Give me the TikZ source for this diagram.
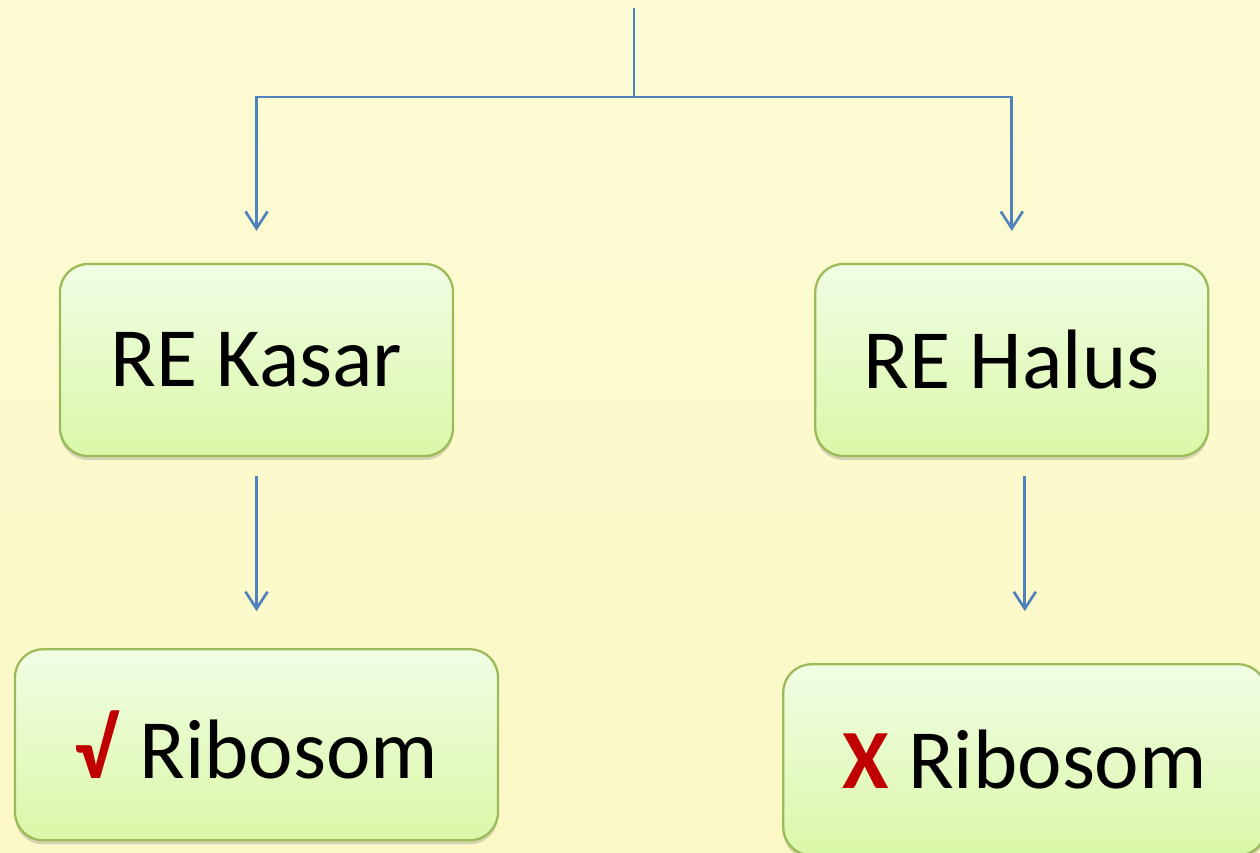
\documentclass[tikz,border=0pt]{standalone}
\usepackage{fontspec}
\setmainfont{Carlito}
\usetikzlibrary{positioning,arrows.meta,shadows}
\definecolor{bgtop}{RGB}{252,251,212}
\definecolor{bgbottom}{RGB}{252,248,198}
\definecolor{boxtop}{RGB}{241,253,228}
\definecolor{boxbottom}{RGB}{218,248,168}
\definecolor{boxline}{RGB}{155,187,89}
\definecolor{linkblue}{RGB}{79,129,189}
\definecolor{markred}{RGB}{192,0,0}
\tikzset{
  rebox/.style={draw=boxline, line width=1.3pt, rounded corners=0.56cm,
    top color=boxtop, bottom color=boxbottom,
    drop shadow={opacity=0.3, shadow xshift=0pt, shadow yshift=-0.08cm},
    minimum width=7.86cm, minimum height=3.84cm, inner sep=0pt,
    font=\fontsize{48}{52}\selectfont},
  ribobox/.style={rebox, minimum width=9.66cm, minimum height=3.82cm},
  link/.style={draw=linkblue, line width=1.5pt},
  linkarrow/.style={link, -{Straight Barb[length=0.34cm, width=0.44cm]}}
}

\begin{document}
\begin{tikzpicture}[thick]
 \shade[top color=bgtop, bottom color=bgbottom] (0,0) rectangle (25.2,-17.06);
 \useasboundingbox (0,0) rectangle (25.2,-17.06);
 \node [rebox] (kasar) at (5.13,-7.2) {RE Kasar};
 \node [rebox, right=7.2cm of kasar] (halus) {RE Halus};
 \node [ribobox, below=3.82cm of kasar] (vribo) {\textcolor{markred}{\textbf{√}} Ribosom};
 \node [ribobox, below=4.12cm of halus, xshift=0.26cm] (xribo) {\textcolor{markred}{\textbf{X}} Ribosom};
 \coordinate (top) at (12.68,-0.16);
 \coordinate [below=1.78cm of top] (split);
 \draw [link] (top) -- (split);
 \draw [linkarrow, shorten >=0.64cm] (split) -| (kasar.north);
 \draw [linkarrow, shorten >=0.64cm] (split) -| (halus.north);
 \draw [linkarrow, shorten <=0.38cm, shorten >=0.74cm] (kasar.south) -- (vribo.north);
 \draw [linkarrow, shorten <=0.38cm, shorten >=1.04cm] (halus.south -| xribo.north) -- (xribo.north);
\end{tikzpicture}
\end{document}
